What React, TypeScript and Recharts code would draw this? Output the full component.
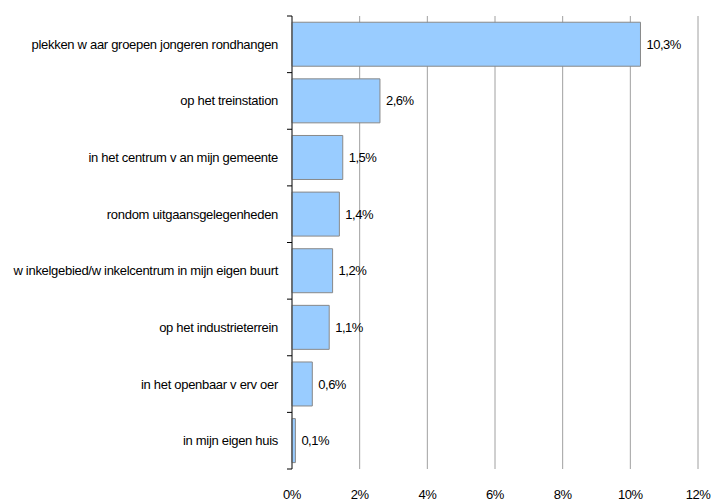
import React from "react";
import {
  BarChart,
  Bar,
  XAxis,
  YAxis,
  CartesianGrid,
  LabelList,
} from "recharts";

const categories = [
  "plekken w aar groepen jongeren rondhangen",
  "op het treinstation",
  "in het centrum v an mijn gemeente",
  "rondom uitgaansgelegenheden",
  "w inkelgebied/w inkelcentrum in mijn eigen buurt",
  "op het industrieterrein",
  "in het openbaar v erv oer",
  "in mijn eigen huis",
];

const values = [10.3, 2.6, 1.5, 1.4, 1.2, 1.1, 0.6, 0.1];

const xTicks = [0, 2, 4, 6, 8, 10, 12];

const data = categories.map((name, i) => ({ name, value: values[i] }));

const FONT = "'Liberation Sans', Arial, sans-serif";

const CategoryTick = (props: any) => {
  const { x, y, payload, index } = props;
  const half = payload?.offset ?? 28.3;
  const axisX = x + 8;
  return (
    <g>
      <line x1={axisX - 5} x2={axisX} y1={y - half} y2={y - half} stroke="#000" />
      {index === categories.length - 1 && (
        <line x1={axisX - 5} x2={axisX} y1={y + half} y2={y + half} stroke="#000" />
      )}
      <text
        x={axisX - 14}
        y={y}
        dy="0.35em"
        textAnchor="end"
        fontSize={13}
        letterSpacing={-0.3}
        fontFamily={FONT}
        fill="#000"
      >
        {payload.value}
      </text>
    </g>
  );
};

const formatPct = (v: any) => `${String(v).replace(".", ",")}%`;

export default function App() {
  return (
    <div style={{ position: "absolute", left: 0, top: 0, background: "#fff" }}>
      <BarChart
        width={712}
        height={502}
        data={data}
        layout="vertical"
        margin={{ top: 16, right: 14, left: 0, bottom: 0 }}
        barCategoryGap="11%"
      >
        <CartesianGrid horizontal={false} stroke="#a0a0a0" />
        <XAxis
          type="number"
          domain={[0, 12]}
          ticks={xTicks}
          tickFormatter={(v) => `${v}%`}
          axisLine={false}
          tickLine={false}
          tickMargin={15}
          height={33}
          tick={{ fontSize: 13, letterSpacing: -0.5, fontFamily: FONT, fill: "#000" }}
        />
        <YAxis
          type="category"
          dataKey="name"
          width={292}
          axisLine={{ stroke: "#333" }}
          tickLine={false}
          tick={<CategoryTick />}
          interval={0}
        />
        <Bar
          dataKey="value"
          fill="#99ccff"
          stroke="#888888"
          strokeWidth={1}
          isAnimationActive={false}
        >
          <LabelList
            dataKey="value"
            position="right"
            offset={6}
            formatter={formatPct}
            style={{ fontSize: 13, letterSpacing: -0.5, fontFamily: FONT, fill: "#000" }}
          />
        </Bar>
      </BarChart>
    </div>
  );
}
